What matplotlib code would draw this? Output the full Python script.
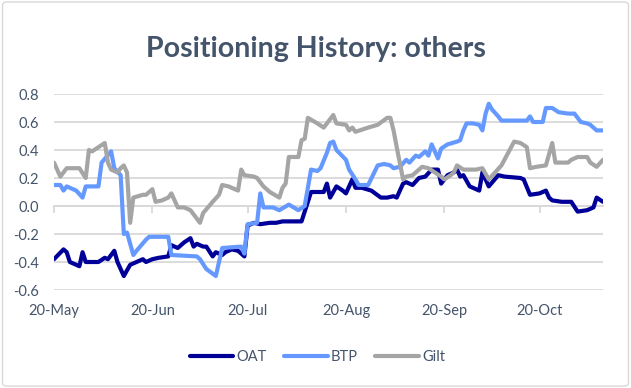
import datetime as dt
import numpy as np
import matplotlib
matplotlib.use("Agg")
import matplotlib.pyplot as plt
import matplotlib.dates as mdates
from matplotlib.ticker import FuncFormatter, FixedLocator
from matplotlib.patches import FancyBboxPatch

# ---------------- data ----------------
start_date = dt.date(2020, 5, 20)
end_day = 173  # last observation (days after start)

series_names = ["OAT", "BTP", "Gilt"]

oat_days = [0, 3, 4, 5, 7, 8, 9, 10, 14, 16, 17, 19, 20, 22, 24, 26, 28, 29, 31, 33,
            36, 37, 39, 41, 43, 44, 45, 47, 48, 50, 51, 53, 54, 56, 58, 60, 61, 63, 65, 68,
            70, 72, 78, 81, 83, 85, 86, 87, 89, 91, 92, 94, 95, 97, 100, 103, 105, 107, 108, 110,
            111, 113, 115, 117, 119, 121, 122, 124, 126, 127, 128, 129, 131, 134, 135, 137, 140, 142, 147, 148,
            150, 153, 155, 156, 157, 160, 163, 165, 168, 170, 171, 173]
oat_vals = [-0.38, -0.31, -0.33, -0.40, -0.42, -0.43, -0.33, -0.40, -0.40, -0.37, -0.38, -0.32, -0.40, -0.50, -0.42, -0.40, -0.38, -0.40, -0.38, -0.37,
            -0.36, -0.28, -0.30, -0.26, -0.23, -0.29, -0.27, -0.29, -0.29, -0.36, -0.33, -0.35, -0.33, -0.31, -0.32, -0.36, -0.14, -0.12, -0.13, -0.12,
            -0.12, -0.11, -0.11, 0.10, 0.10, 0.10, 0.16, 0.06, 0.14, 0.11, 0.09, 0.19, 0.13, 0.13, 0.11, 0.06, 0.06, 0.07, 0.06, 0.16,
            0.17, 0.15, 0.20, 0.21, 0.26, 0.26, 0.16, 0.22, 0.24, 0.26, 0.21, 0.22, 0.14, 0.11, 0.24, 0.14, 0.22, 0.21, 0.20, 0.19,
            0.08, 0.09, 0.11, 0.06, 0.04, 0.03, 0.03, -0.04, -0.03, -0.01, 0.06, 0.03]

btp_days = [0, 2, 3, 4, 7, 9, 10, 14, 15, 18, 19, 21, 22, 23, 25, 26, 29, 30, 36, 37,
            45, 46, 48, 51, 53, 59, 60, 61, 64, 65, 66, 69, 71, 74, 77, 79, 81, 83, 84, 86,
            87, 88, 89, 92, 93, 95, 96, 99, 102, 104, 106, 107, 109, 111, 112, 114, 115, 117, 118, 119,
            121, 122, 124, 127, 128, 129, 130, 132, 134, 135, 136, 137, 138, 140, 141, 149, 150, 151, 154, 155,
            157, 159, 162, 164, 166, 168, 169, 171, 173]
btp_vals = [0.15, 0.15, 0.11, 0.14, 0.11, 0.06, 0.14, 0.14, 0.31, 0.39, 0.27, 0.22, -0.20, -0.19, -0.35, -0.32, -0.24, -0.22, -0.22, -0.35,
            -0.36, -0.38, -0.45, -0.50, -0.30, -0.29, -0.34, -0.13, -0.12, 0.09, -0.01, -0.01, -0.03, 0.01, -0.03, 0.00, 0.26, 0.25, 0.27, 0.38,
            0.45, 0.46, 0.40, 0.33, 0.26, 0.19, 0.15, 0.15, 0.29, 0.30, 0.29, 0.27, 0.28, 0.33, 0.31, 0.36, 0.35, 0.39, 0.36, 0.44,
            0.34, 0.41, 0.44, 0.46, 0.47, 0.54, 0.59, 0.59, 0.58, 0.54, 0.66, 0.73, 0.69, 0.64, 0.61, 0.61, 0.64, 0.60, 0.60, 0.70,
            0.70, 0.67, 0.66, 0.66, 0.60, 0.59, 0.58, 0.54, 0.54]

gilt_days = [0, 2, 3, 4, 8, 10, 11, 12, 14, 16, 17, 18, 20, 21, 22, 23, 24, 25, 28, 29,
             31, 32, 34, 36, 37, 39, 41, 43, 44, 46, 47, 50, 52, 53, 55, 58, 59, 60, 63, 64,
             66, 68, 71, 72, 73, 74, 77, 78, 79, 80, 83, 85, 88, 89, 92, 93, 94, 95, 99, 102,
             105, 106, 107, 108, 110, 111, 113, 115, 116, 118, 120, 122, 123, 125, 126, 127, 129, 133, 135, 137,
             139, 141, 145, 147, 149, 150, 152, 155, 157, 158, 162, 163, 165, 168, 169, 171, 173]
gilt_vals = [0.31, 0.21, 0.24, 0.27, 0.27, 0.20, 0.40, 0.39, 0.42, 0.45, 0.31, 0.26, 0.24, 0.27, 0.29, 0.24, -0.12, 0.06, 0.08, 0.08,
             0.12, 0.03, 0.04, 0.06, 0.09, -0.01, -0.01, -0.03, -0.06, -0.12, -0.05, 0.03, 0.08, 0.15, 0.14, 0.11, 0.26, 0.22, 0.21, 0.20,
             0.14, 0.10, 0.06, 0.13, 0.16, 0.35, 0.35, 0.47, 0.48, 0.63, 0.59, 0.56, 0.65, 0.59, 0.58, 0.54, 0.56, 0.53, 0.56, 0.58,
             0.63, 0.63, 0.54, 0.42, 0.19, 0.21, 0.22, 0.26, 0.28, 0.27, 0.24, 0.21, 0.19, 0.22, 0.24, 0.29, 0.26, 0.26, 0.27, 0.19,
             0.24, 0.29, 0.46, 0.45, 0.42, 0.27, 0.28, 0.29, 0.45, 0.31, 0.31, 0.33, 0.35, 0.35, 0.31, 0.28, 0.33]

y_ticks = [-0.6, -0.4, -0.2, 0.0, 0.2, 0.4, 0.6, 0.8]
title_text = "Positioning History: others"

# ---------------- style ----------------
FONT = "Lato"
TEXT_COLOR = "#44546A"
GRID_COLOR = "#D9D9D9"
colors = {"OAT": "#000099", "BTP": "#6699FF", "Gilt": "#A5A5A5"}

plt.rcParams["font.family"] = [FONT, "DejaVu Sans"]


def to_dates(days):
    return [start_date + dt.timedelta(days=int(d)) for d in days]


fig = plt.figure(figsize=(6.31, 3.88), dpi=100)

border = FancyBboxPatch((0.004, 0.005), 0.992, 0.99,
                        boxstyle="round,pad=0,rounding_size=0.008",
                        transform=fig.transFigure, ec=GRID_COLOR, fc="white",
                        lw=1.0, zorder=-10)
fig.patches.append(border)

ax = fig.add_axes([54 / 631, 1 - 290 / 388, (603 - 54) / 631, (290 - 94) / 388])
ax.set_facecolor("none")

data = {
    "OAT": (oat_days, oat_vals),
    "BTP": (btp_days, btp_vals),
    "Gilt": (gilt_days, gilt_vals),
}
handles = []
for name in series_names:
    d, v = data[name]
    (ln,) = ax.plot(to_dates(d), v, color=colors[name], lw=3.0,
                    solid_joinstyle="round", solid_capstyle="round", label=name)
    handles.append(ln)

ax.set_xlim(start_date, start_date + dt.timedelta(days=end_day))
ax.set_ylim(-0.6, 0.8)
ax.yaxis.set_major_locator(FixedLocator(y_ticks))
ax.yaxis.set_major_formatter(FuncFormatter(lambda v, p: f"{round(v, 1) + 0:.1f}"))
ax.yaxis.grid(True, color=GRID_COLOR, lw=1.3)
ax.set_axisbelow(True)
for s in ax.spines.values():
    s.set_visible(False)

ax.xaxis.set_major_locator(mdates.MonthLocator(bymonthday=20))
ax.xaxis.set_major_formatter(mdates.DateFormatter("%d-%b"))
ax.tick_params(axis="x", length=0, pad=10, labelsize=10.5, labelcolor=TEXT_COLOR)
ax.tick_params(axis="y", length=0, pad=11, labelsize=10.5, labelcolor=TEXT_COLOR)

# axis line with tick marks crossing at zero
sec = ax.secondary_xaxis(0, transform=ax.transData)
sec.xaxis.set_major_locator(mdates.MonthLocator(bymonthday=20))
sec.spines["bottom"].set_color(GRID_COLOR)
sec.spines["bottom"].set_linewidth(1.3)
sec.tick_params(axis="x", length=5, width=1.3, color=GRID_COLOR, direction="out",
                labelbottom=False)

fig.text(0.5, 1 - 57 / 388, title_text, ha="center", va="baseline",
         fontsize=20.5, fontweight="bold", color=TEXT_COLOR)

fig.legend(handles, series_names, loc="center", bbox_to_anchor=(0.503, 1 - 357 / 388),
           ncol=3, frameon=False, handlelength=3.0, handletextpad=0.2,
           columnspacing=1.2, fontsize=10.5, labelcolor=TEXT_COLOR)

fig.savefig("out.png", dpi=100)
